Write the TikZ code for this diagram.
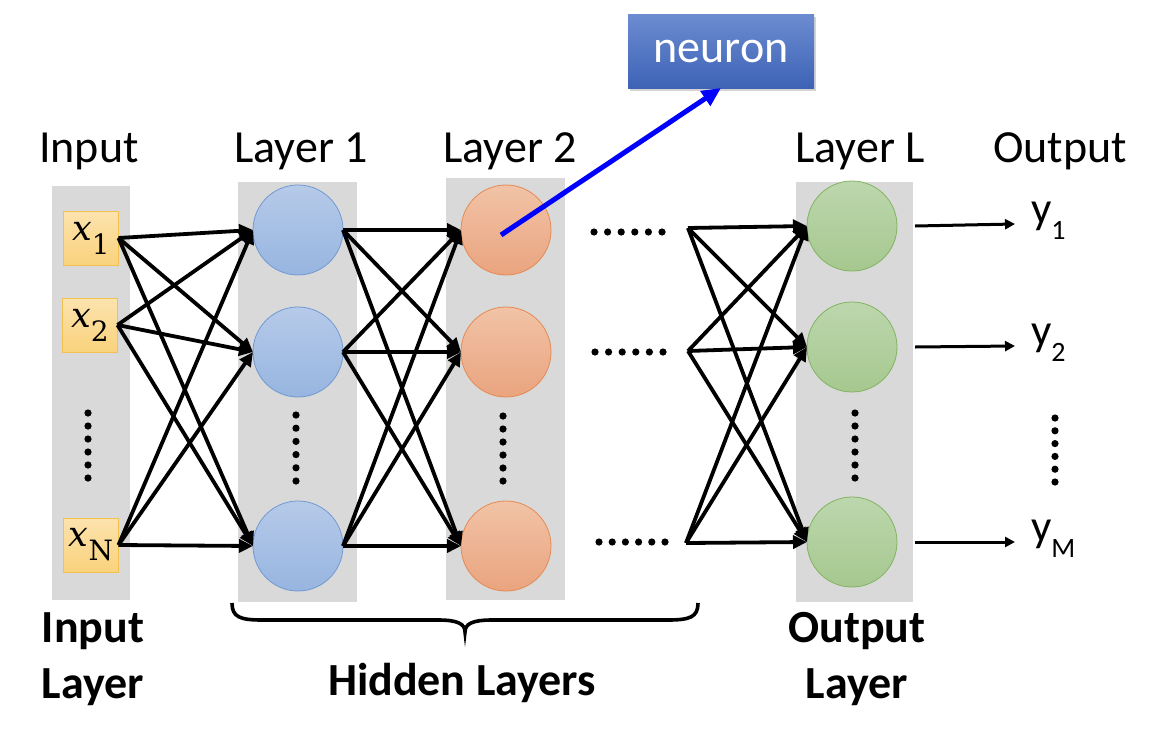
\documentclass[tikz,border=0pt]{standalone}
\usepackage[no-math]{fontspec}
\setmainfont{Carlito}
\newfontfamily\xserif{DejaVu Serif}
\usetikzlibrary{arrows.meta,shadows}
\definecolor{colgrey}{HTML}{D9D9D9}
\definecolor{bluetop}{HTML}{B6CAE9}
\definecolor{bluebot}{HTML}{97B5E0}
\definecolor{blueline}{HTML}{7199D3}
\definecolor{orgtop}{HTML}{F1C3A6}
\definecolor{orgbot}{HTML}{EAA47F}
\definecolor{orgline}{HTML}{E58A53}
\definecolor{grntop}{HTML}{BCD7AD}
\definecolor{grnbot}{HTML}{A6C88F}
\definecolor{grnline}{HTML}{82B362}
\definecolor{inptop}{HTML}{FCE3AE}
\definecolor{inpbot}{HTML}{F9D27C}
\definecolor{inpline}{HTML}{F3C150}
\definecolor{neutop}{HTML}{6C8CD1}
\definecolor{neubot}{HTML}{3E63B6}
\newcommand{\xsub}[1]{{\xserif\itshape\fontsize{35}{35}\selectfont x}\raisebox{-14pt}{\xserif\upshape\fontsize{28}{28}\selectfont #1}}
\newcommand{\ysub}[1]{y\raisebox{-16pt}{\fontsize{28}{28}\selectfont #1}}
\begin{document}
\begin{tikzpicture}[x=1pt,y=-1pt,
  every node/.style={inner sep=0pt, outer sep=0pt},
  neu/.style={circle, minimum size=90pt, line width=0.8pt},
  hidA/.style={neu, draw=blueline, top color=bluetop, bottom color=bluebot},
  hidB/.style={neu, draw=orgline, top color=orgtop, bottom color=orgbot},
  outn/.style={neu, draw=grnline, top color=grntop, bottom color=grnbot},
  inbox/.style={rectangle, minimum width=55pt, minimum height=54pt, draw=inpline, line width=0.8pt, top color=inptop, bottom color=inpbot},
  conn/.style={line width=3.8pt, -{Triangle[length=14pt,width=13pt]}},
  outconn/.style={line width=3pt, -{Triangle[length=10pt,width=10pt]}},
  toplab/.style={font=\fontsize{46}{50}\selectfont, anchor=base},
  botlab/.style={font=\fontsize{46}{50}\selectfont\bfseries, anchor=base},
  ylab/.style={font=\fontsize{45}{50}\selectfont, anchor=base west},
  neubox/.style={rectangle, minimum width=186pt, minimum height=74pt, top color=neutop, bottom color=neubot, text=white, font=\fontsize{46}{50}\selectfont, drop shadow={shadow xshift=2pt, shadow yshift=-3pt, opacity=0.35}},
]
\useasboundingbox (0,0) rectangle (1156,742);
% grey columns
\fill[colgrey] (52,186) rectangle (130,600);
\fill[colgrey] (238,182) rectangle (357,602);
\fill[colgrey] (446,178) rectangle (565,600);
\fill[colgrey] (796,182) rectangle (913,602);

% top labels
\node[toplab] (tIn) at (89,162) {Input};
\node[toplab] (tL1) at (301,162) {Layer 1};
\node[toplab] (tL2) at (510,162) {Layer 2};
\node[toplab] (tLL) at (860,162) {Layer L};
\node[toplab] (tOut) at (1060,162) {Output};

% input boxes
\node[inbox] (i1) at (91,238) {\xsub{1}};
\node[inbox] (i2) at (90,325) {\xsub{2}};
\node[inbox] (iN) at (91,545) {\xsub{N}};

% neurons
\node[hidA] (a1) at (298,230) {};
\node[hidA] (a2) at (298,352) {};
\node[hidA] (a3) at (298,546) {};
\node[hidB] (b1) at (506,230) {};
\node[hidB] (b2) at (506,352) {};
\node[hidB] (b3) at (506,546) {};
\node[outn] (c1) at (852,226) {};
\node[outn] (c2) at (852,347) {};
\node[outn] (c3) at (852,542) {};

% vertical dots
\foreach \k in {0,...,5} {
  \fill (88,413+13*\k) circle (3.6pt);
  \fill (296,415+13.2*\k) circle (3.6pt);
  \fill (503,416+13*\k) circle (3.6pt);
  \fill (855,413+13*\k) circle (3.6pt);
  \fill (1055,418+12.8*\k) circle (3.6pt);
}
% horizontal dots
\foreach \k in {0,...,5} {
  \fill (594+13.6*\k,232) circle (3.6pt);
  \fill (595+13.6*\k,352) circle (3.6pt);
  \fill (599+13.2*\k,542) circle (3.6pt);
}

% fan origins
\coordinate (f1) at (688,228);
\coordinate (f2) at (688,351);
\coordinate (f3) at (686,543);

% connections
\foreach \s in {i1,i2,iN} \foreach \t in {a1,a2,a3} \draw[conn] (\s.east) -- (\t.west);
\foreach \s in {a1,a2,a3} \foreach \t in {b1,b2,b3} \draw[conn] (\s.east) -- (\t.west);
\foreach \s in {f1,f2,f3} \foreach \t in {c1,c2,c3} \draw[conn] (\s) -- (\t.west);

% outputs
\node[ylab] (y1) at (1031,223) {\ysub{1}};
\node[ylab] (y2) at (1031,345) {\ysub{2}};
\node[ylab] (yM) at (1031,541) {\ysub{M}};
\coordinate (o1) at (1015,224);
\coordinate (o2) at (1015,346);
\coordinate (o3) at (1015,542);
\draw[outconn] ([xshift=18pt]c1.east) -- (o1);
\draw[outconn] ([xshift=18pt]c2.east) -- (o2);
\draw[outconn] ([xshift=18pt]c3.east) -- (o3);

% neuron callout
\node[neubox] (neuron) at (721,51) {neuron};
\draw[blue, line width=5pt, -{Triangle[length=19pt,width=17pt]}] ([xshift=-5pt,yshift=-5pt]b1.center) -- (neuron.south);

% brace
\draw[line width=3.6pt] (232,603) .. controls (232,617) and (240,620) .. (262,620) -- (438,620) .. controls (458,620) and (465,624) .. (465,632) .. controls (465,624) and (472,620) .. (492,620) -- (668,620) .. controls (690,620) and (698,617) .. (698,603);

% bottom labels
\node[botlab] (bIn1) at (93,642) {Input};
\node[botlab] (bIn2) at (93,698) {Layer};
\node[botlab] (bHid) at (462,695) {Hidden Layers};
\node[botlab] (bOut1) at (857,642) {Output};
\node[botlab] (bOut2) at (857,698) {Layer};
\end{tikzpicture}
\end{document}
